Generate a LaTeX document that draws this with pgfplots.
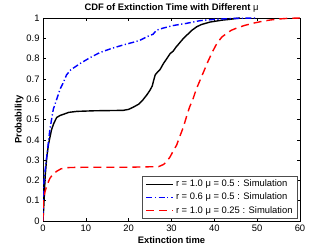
\documentclass[border=0pt]{standalone}
\usepackage{pgfplots}
\pgfplotsset{compat=1.18}
\usepackage{fontspec}
\setmainfont{Liberation Sans}
\begin{document}
\begin{tikzpicture}
\useasboundingbox (0,0) rectangle (332bp,249bp);
\begin{axis}[
  at={(43bp,28bp)}, anchor=south west,
  scale only axis, width=257bp, height=203bp,
  xmin=0, xmax=60, ymin=0, ymax=1,
  xtick={0,10,...,60},
  ytick={0,0.1,...,1.0},
  yticklabels={0,0.1,0.2,0.3,0.4,0.5,0.6,0.7,0.8,0.9,1},
  tick align=inside,
  major tick length=3bp,
  axis line style={line width=0.6bp},
  every tick/.style={black, line width=0.5bp},
  font=\fontsize{9.4bp}{11bp}\selectfont,
  /pgf/number format/assume math mode=true,
  every axis title shift=0pt,
  title={\textbf{CDF of Extinction Time with Different} μ},
  title style={at={(axis description cs:0.5,1.036)}, anchor=base, inner sep=0pt},
  xlabel={\textbf{Extinction time}},
  xlabel style={at={(axis description cs:0.5,-0.113)}, anchor=base, inner sep=0pt},
  ylabel={\textbf{Probability}},
  ylabel style={at={(axis description cs:-0.083,0.5)}, anchor=base, inner sep=0pt},
  legend style={at={(0.992,0.01)}, anchor=south east, draw=black!70, line width=0.8bp,
    font=\fontsize{9.4bp}{11bp}\selectfont, row sep=0.8bp, inner xsep=3bp, inner ysep=2bp},
  legend cell align=left,
  legend image code/.code={\draw[#1] (0bp,0bp) -- (27bp,0bp);},
]
\addplot[black, line width=1.4bp] coordinates {
(0,0) (0.3,0.12) (0.5,0.22) (0.86,0.31) (1.3,0.38) (2.0,0.45) (2.5,0.48) (3.2,0.51) (4.0,0.52) (4.7,0.525) (6,0.535) (7.9,0.54) (12,0.543) (18.7,0.545) (20,0.55) (21,0.56) (22.3,0.575) (23.3,0.596) (24.2,0.62) (25,0.645) (25.5,0.665) (25.8,0.69) (26.2,0.72) (26.8,0.735) (27.3,0.745) (28.1,0.775) (28.9,0.80) (29.7,0.825) (30.4,0.837) (31,0.855) (31.8,0.875) (32.8,0.90) (33.8,0.92) (34.8,0.94) (35.9,0.957) (37,0.968) (39,0.98) (40.5,0.985) (42,0.99) (43.5,0.993) (45.2,0.998) (46,1)
};
\addlegendentry{r = 1.0 μ = 0.5 : Simulation}
\addplot[blue, line width=1.4bp, dash pattern=on 6bp off 2.5bp on 1.2bp off 2.5bp] coordinates {
(0,0) (0.1,0.17) (0.5,0.25) (0.9,0.32) (1.6,0.45) (2.4,0.55) (3.2,0.6) (4,0.65) (4.7,0.68) (5.5,0.72) (6.5,0.745) (8.6,0.775) (11,0.805) (13.3,0.83) (16,0.85) (18.7,0.867) (21,0.88) (22.6,0.89) (24.5,0.91) (25.7,0.92) (26.5,0.94) (28,0.95) (30.4,0.963) (33.6,0.974) (36.7,0.987) (39.8,0.993) (44.4,0.998) (50,1)
};
\addlegendentry{r = 0.6 μ = 0.5 : Simulation}
\addplot[red, line width=1.4bp, dash pattern=on 8bp off 5bp] coordinates {
(0,0) (0.05,0.1) (0.47,0.145) (1.0,0.18) (1.6,0.21) (2.3,0.23) (3.2,0.245) (4.2,0.257) (5.5,0.263) (10,0.265) (20,0.265) (27,0.268) (28.1,0.278) (28.8,0.29) (29.7,0.317) (30.4,0.345) (31.2,0.374) (32,0.42) (32.8,0.464) (33.5,0.514) (34.2,0.56) (35,0.6) (35.8,0.65) (36.7,0.695) (37.6,0.74) (38.6,0.79) (39.6,0.835) (40.6,0.875) (41.7,0.905) (42.9,0.925) (44,0.94) (45.2,0.95) (47,0.963) (49,0.974) (51,0.983) (53,0.99) (55,0.995) (57,0.998) (60,1)
};
\addlegendentry{r = 1.0 μ = 0.25 : Simulation}
\end{axis}
\end{tikzpicture}
\end{document}
